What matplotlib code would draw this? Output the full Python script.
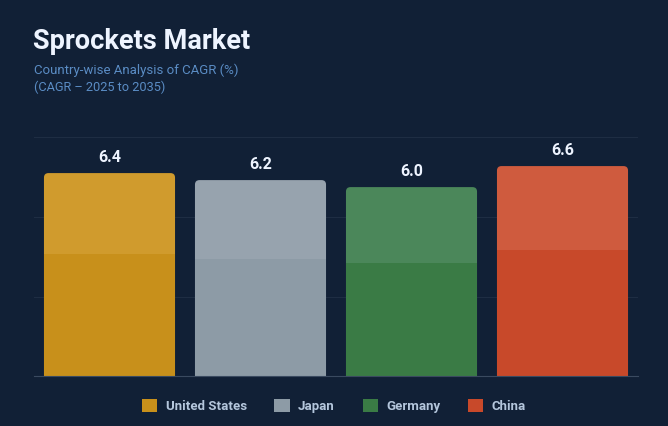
import matplotlib.pyplot as plt
import numpy as np
from matplotlib.patches import FancyBboxPatch, Rectangle

countries = ["United States", "Japan", "Germany", "China"]
cagr = [6.4, 6.2, 6.0, 6.6]
colors_dark = ["#C8901B", "#8D9BA6", "#3A7B45", "#C8492A"]
colors_light = ["#D09B2D", "#97A3AE", "#4B875A", "#CF5B3E"]

BG = "#112036"
Y_LO, Y_HI = 0.6, 7.43

plt.rcParams["font.family"] = ["Roboto", "DejaVu Sans"]

fig = plt.figure(figsize=(6.68, 4.26), dpi=100)
fig.patch.set_facecolor(BG)
W, H = 668, 426
ax = fig.add_axes([34 / W, (H - 376.3) / H, 604 / W, (376.3 - 137) / H])
ax.set_facecolor(BG)

x = np.arange(len(countries))
bw = 0.868
bars = ax.bar(x, cagr, width=bw, color=colors_light, zorder=2)

# swap in rounded-top versions and add the darker lower part
asp = 4.3
for i, b in enumerate(bars):
    bx, by, w, h = b.get_x(), b.get_y(), b.get_width(), b.get_height()
    b.set_visible(False)
    r = 0.03
    rounded = FancyBboxPatch((bx + r, by - 1 + r * asp), w - 2 * r, h + 1 - 2 * r * asp,
                             boxstyle=f"round,pad={r}", mutation_aspect=asp,
                             facecolor=colors_light[i], edgecolor="none", zorder=2)
    ax.add_patch(rounded)
    split = Y_LO + 0.6 * (cagr[i] - Y_LO)
    ax.add_patch(Rectangle((bx, Y_LO - 1), w, split - Y_LO + 1,
                           facecolor=colors_dark[i], edgecolor="none", zorder=3))
    ax.text(x[i], cagr[i] + 0.24, f"{cagr[i]:.1f}", ha="center", va="bottom",
            color="#EEF4FF", fontsize=11.5, fontweight="bold", zorder=4)

ax.set_xlim(-0.5, len(countries) - 0.5)
ax.set_ylim(Y_LO, Y_HI)
ax.set_yticks(np.linspace(Y_LO, Y_HI, 4))
ax.grid(axis="y", color="#1E2D43", linewidth=0.8, zorder=0)
ax.set_xticks([])
ax.tick_params(left=False, labelleft=False)
for s in ["top", "right", "left"]:
    ax.spines[s].set_visible(False)
ax.spines["bottom"].set_color("#3A4A60")
ax.spines["bottom"].set_linewidth(0.8)
ax.spines["bottom"].set_zorder(5)

fig.text(33 / W, 1 - 28 / H, "Sprockets Market", ha="left", va="top",
         color="#EEF4FF", fontsize=19.5, fontweight="bold")
fig.text(34 / W, 1 - 64 / H, "Country-wise Analysis of CAGR (%)", ha="left", va="top",
         color="#5A8CC4", fontsize=9.5)
fig.text(34 / W, 1 - 81 / H, "(CAGR \u2013 2025 to 2035)", ha="left", va="top",
         color="#5A8CC4", fontsize=9.2)

handles = [Rectangle((0, 0), 1, 1, facecolor=c, edgecolor="none") for c in colors_dark]
leg = fig.legend(handles, countries, loc="center", bbox_to_anchor=(0.5, 1 - 406 / H),
                 ncol=4, frameon=False, handlelength=1.15, handleheight=1.15,
                 handletextpad=0.65, columnspacing=2.1,
                 prop={"size": 9.5, "weight": "bold"})
for t in leg.get_texts():
    t.set_color("#B4C6DC")

fig.savefig("out.png", dpi=100, facecolor=BG)
